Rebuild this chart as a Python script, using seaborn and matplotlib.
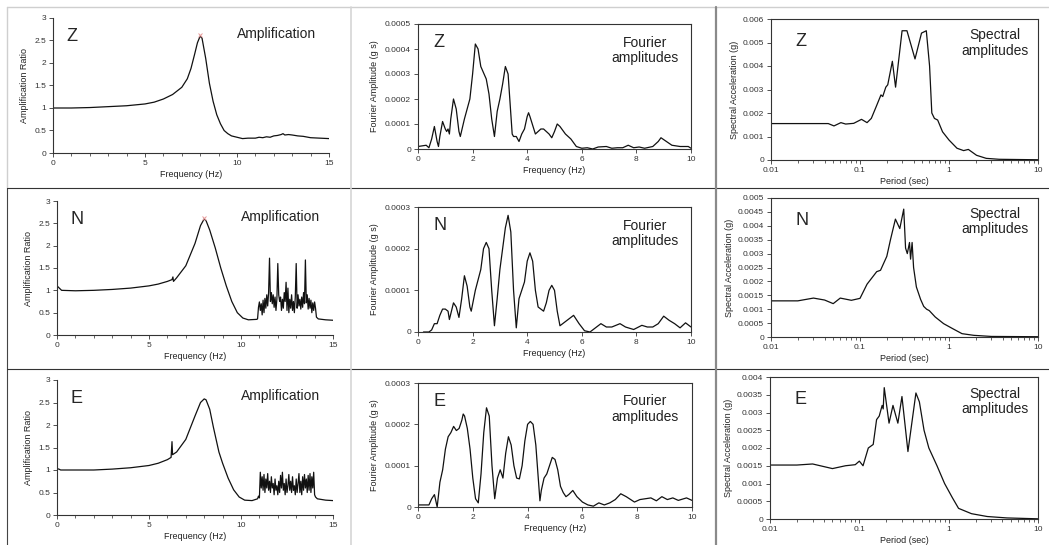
import matplotlib
matplotlib.use("Agg")
import matplotlib.pyplot as plt
from matplotlib.lines import Line2D
import numpy as np
import pandas as pd
import seaborn as sns

W, H = 1049, 545

# ---- amplification ratio (Hz, ratio) ----
amp_z_f = [0, 1, 2, 3, 4, 5, 5.5, 6, 6.5, 7, 7.3, 7.5, 7.7, 7.85, 8.0, 8.1, 8.3, 8.5, 8.7, 8.9,
           9.1, 9.3, 9.5, 9.7, 10, 10.3, 10.6, 11, 11.2, 11.4, 11.6, 11.8, 12, 12.2, 12.4, 12.5,
           12.6, 12.8, 13, 13.3, 13.6, 14, 14.5, 15]
amp_z_r = [1.0, 1.0, 1.01, 1.03, 1.05, 1.09, 1.13, 1.2, 1.3, 1.46, 1.65, 1.88, 2.2, 2.45, 2.6, 2.55,
           2.1, 1.55, 1.15, 0.85, 0.65, 0.5, 0.43, 0.38, 0.35, 0.32, 0.33, 0.33, 0.35, 0.34, 0.36,
           0.35, 0.38, 0.39, 0.41, 0.43, 0.4, 0.41, 0.4, 0.38, 0.37, 0.34, 0.33, 0.32]

amp_n_f = [0, 0.05, 0.15, 0.25, 1, 2, 3, 4, 5, 5.5, 6, 6.25, 6.3, 6.33, 6.5, 7, 7.5, 7.8, 8, 8.1,
           8.3, 8.6, 8.9, 9.2, 9.5, 9.8, 10.1, 10.4, 10.85,
           10.90, 10.95, 11.00, 11.05, 11.10, 11.15, 11.20, 11.25, 11.30, 11.35, 11.40, 11.45, 11.50,
           11.55, 11.60, 11.65, 11.70, 11.75, 11.80, 11.85, 11.90, 11.95, 12.00, 12.05, 12.10, 12.15,
           12.20, 12.25, 12.30, 12.35, 12.40, 12.45, 12.50, 12.55, 12.60, 12.65, 12.70, 12.75, 12.80,
           12.85, 12.90, 12.95, 13.00, 13.05, 13.10, 13.15, 13.20, 13.25, 13.30, 13.35, 13.40, 13.45,
           13.50, 13.55, 13.60, 13.65, 13.70, 13.75, 13.80, 13.85, 13.90, 13.95, 14.00, 14.05, 14.10,
           14.2, 14.6, 15]
amp_n_r = [1.1, 1.08, 1.04, 1.0, 0.99, 1.0, 1.02, 1.05, 1.1, 1.14, 1.2, 1.24, 1.3, 1.2, 1.28, 1.55,
           2.05, 2.45, 2.6, 2.56, 2.35, 1.95, 1.5, 1.1, 0.75, 0.5, 0.38, 0.34, 0.35,
           0.36, 0.62, 0.74, 0.55, 0.7, 0.45, 0.78, 0.5, 0.82, 0.6, 0.9, 0.65, 0.95,
           1.72, 0.75, 0.95, 0.7, 0.9, 0.62, 0.85, 0.55, 0.8, 1.6, 0.9, 0.75, 0.85,
           0.55, 0.8, 0.6, 0.95, 0.75, 1.18, 0.55, 1.05, 0.5, 0.8, 0.6, 0.9, 0.55,
           0.75, 0.5, 0.85, 1.6, 0.6, 0.9, 0.65, 0.8, 0.58, 0.85, 0.62, 0.95, 0.7,
           1.68, 0.72, 0.9, 0.58, 0.82, 0.6, 0.78, 0.5, 0.72, 0.55, 0.74, 0.6, 0.4,
           0.36, 0.34, 0.33]

amp_e_f = [0, 0.1, 0.2, 1, 2, 3, 4, 5, 5.5, 6, 6.2, 6.25, 6.28, 6.5, 7, 7.5, 7.8, 8, 8.1, 8.3,
           8.5, 8.8, 9.0, 9.3, 9.6, 9.9, 10.2, 10.6,
           10.90, 10.95, 11.00, 11.05, 11.10, 11.15, 11.20, 11.25, 11.30, 11.35, 11.40, 11.45, 11.50,
           11.55, 11.60, 11.65, 11.70, 11.75, 11.80, 11.85, 11.90, 11.95, 12.00, 12.05, 12.10, 12.15,
           12.20, 12.25, 12.30, 12.35, 12.40, 12.45, 12.50, 12.55, 12.60, 12.65, 12.70, 12.75, 12.80,
           12.85, 12.90, 12.95, 13.00, 13.05, 13.10, 13.15, 13.20, 13.25, 13.30, 13.35, 13.40, 13.45,
           13.50, 13.55, 13.60, 13.65, 13.70, 13.75, 13.80, 13.85, 13.90, 13.95, 14.00, 14.05,
           14.15, 14.6, 15]
amp_e_r = [1.03, 1.02, 1.0, 1.0, 1.0, 1.02, 1.05, 1.1, 1.15, 1.23, 1.28, 1.63, 1.34, 1.4, 1.68,
           2.2, 2.5, 2.58, 2.56, 2.35, 1.95, 1.4, 1.15, 0.82, 0.56, 0.4, 0.33, 0.32,
           0.36, 0.42, 0.38, 0.95, 0.6, 0.85, 0.55, 0.9, 0.5, 0.8, 0.6, 0.92, 0.55,
           0.75, 0.5, 0.85, 0.6, 0.7, 0.45, 0.8, 0.55, 0.65, 0.45, 0.75, 0.5, 0.88,
           0.6, 0.95, 0.55, 0.7, 0.45, 0.8, 0.5, 0.65, 0.9, 0.55, 0.75, 0.5, 0.85,
           0.55, 0.65, 0.45, 0.8, 0.5, 0.7, 0.92, 0.5, 0.75, 0.45, 0.85, 0.55, 0.9,
           0.6, 0.8, 0.5, 0.88, 0.55, 0.92, 0.5, 0.85, 0.6, 0.95, 0.45, 0.4,
           0.36, 0.33, 0.32]

# ---- Fourier amplitudes (Hz, g s) ----
four_z_f = [0, 0.3, 0.4, 0.5, 0.6, 0.7, 0.75, 0.8, 0.9, 1.0, 1.05, 1.1, 1.15, 1.2, 1.3, 1.4, 1.5,
            1.55, 1.7, 1.9, 2.0, 2.1, 2.2, 2.3, 2.5, 2.6, 2.7, 2.8, 2.9, 3.0, 3.1, 3.2, 3.3, 3.4,
            3.45, 3.5, 3.6, 3.7, 3.8, 3.9, 4.0, 4.05, 4.1, 4.3, 4.5, 4.6, 4.7, 4.8, 4.9, 5.0, 5.1,
            5.2, 5.4, 5.6, 5.8, 6.0, 6.2, 6.4, 6.6, 6.9, 7.1, 7.3, 7.5, 7.7, 7.9, 8.1, 8.3, 8.6,
            8.8, 8.9, 9.1, 9.3, 9.6, 9.9, 10]
four_z_a = [1e-05, 1.5e-05, 5e-06, 4e-05, 9e-05, 3e-05, 1e-05, 5e-05, 0.00011, 8e-05, 7e-05, 8e-05,
            6e-05, 0.00012, 0.0002, 0.00016, 7e-05, 5e-05, 0.00012, 0.0002, 0.0003, 0.00042, 0.0004,
            0.00033, 0.00028, 0.00022, 0.00012, 5e-05, 0.00015, 0.0002, 0.00026, 0.00033, 0.0003,
            0.00014, 6e-05, 5e-05, 5e-05, 3e-05, 6e-05, 8e-05, 0.00013, 0.000145, 0.00013, 6e-05,
            8e-05, 8e-05, 7e-05, 6e-05, 4.5e-05, 7e-05, 0.0001, 9e-05, 6e-05, 4e-05, 1e-05, 3e-06,
            5e-06, 0.0, 8e-06, 1e-05, 3e-06, 5e-06, 5e-06, 1.5e-05, 5e-06, 8e-06, 3e-06, 1e-05,
            3e-05, 4.5e-05, 3e-05, 1.5e-05, 1e-05, 1e-05, 3e-06]

four_n_f = [0.2, 0.4, 0.5, 0.6, 0.7, 0.8, 0.9, 1.0, 1.1, 1.15, 1.3, 1.4, 1.5, 1.6, 1.7, 1.8, 1.9,
            1.95, 2.1, 2.3, 2.4, 2.5, 2.6, 2.7, 2.8, 2.9, 3.0, 3.2, 3.3, 3.4, 3.5, 3.6, 3.7, 3.8,
            3.9, 4.0, 4.1, 4.2, 4.3, 4.4, 4.6, 4.7, 4.8, 4.9, 5.0, 5.1, 5.2, 5.4, 5.6, 5.7, 5.9,
            6.1, 6.3, 6.5, 6.7, 6.9, 7.1, 7.4, 7.6, 7.9, 8.2, 8.4, 8.6, 8.8, 9.0, 9.2, 9.4, 9.6,
            9.8, 10.0]
four_n_a = [0.0, 0.0, 5e-06, 2e-05, 2e-05, 4e-05, 5.5e-05, 5.5e-05, 5e-05, 3e-05, 7e-05, 6e-05,
            3.5e-05, 8e-05, 0.000135, 0.00011, 6e-05, 5e-05, 0.0001, 0.00015, 0.0002, 0.000215,
            0.0002, 0.0001, 1.5e-05, 8e-05, 0.00015, 0.00025, 0.00028, 0.00024, 0.0001, 1e-05,
            8e-05, 0.0001, 0.00012, 0.00017, 0.00019, 0.00017, 0.0001, 6e-05, 5e-05, 7e-05,
            0.0001, 0.000112, 0.0001, 5e-05, 1.5e-05, 2.5e-05, 3.5e-05, 4e-05, 2e-05, 3e-06, 0.0,
            1e-05, 2e-05, 1.2e-05, 1.2e-05, 2e-05, 1.2e-05, 6e-06, 1.6e-05, 1.2e-05, 1.2e-05,
            2e-05, 3.8e-05, 2.8e-05, 2e-05, 1e-05, 2.2e-05, 1.2e-05]

four_e_f = [0, 0.4, 0.5, 0.6, 0.65, 0.7, 0.8, 0.9, 1.0, 1.1, 1.2, 1.3, 1.4, 1.5, 1.6, 1.65, 1.7,
            1.8, 1.9, 2.0, 2.1, 2.2, 2.3, 2.4, 2.5, 2.6, 2.7, 2.8, 2.9, 3.0, 3.1, 3.2, 3.3, 3.4,
            3.5, 3.6, 3.7, 3.8, 3.9, 4.0, 4.1, 4.2, 4.3, 4.4, 4.45, 4.5, 4.6, 4.7, 4.8, 4.9, 5.0,
            5.1, 5.2, 5.3, 5.4, 5.5, 5.65, 5.8, 6.0, 6.2, 6.4, 6.6, 6.8, 7.0, 7.2, 7.4, 7.6, 7.9,
            8.1, 8.3, 8.5, 8.7, 8.9, 9.1, 9.3, 9.5, 9.8, 10]
four_e_a = [5e-06, 5e-06, 2e-05, 3e-05, 1.5e-05, 0.0, 6e-05, 9e-05, 0.00014, 0.00017, 0.00018,
            0.000195, 0.000185, 0.00019, 0.00021, 0.000225, 0.00022, 0.00019, 0.00014, 7e-05,
            2e-05, 1e-05, 8e-05, 0.00018, 0.00024, 0.00022, 0.0001, 2e-05, 7e-05, 9e-05, 7e-05,
            0.00013, 0.00017, 0.00015, 0.0001, 7e-05, 6.8e-05, 0.0001, 0.00016, 0.0002, 0.000207,
            0.0002, 0.00015, 6e-05, 1.5e-05, 4e-05, 7e-05, 8e-05, 0.0001, 0.00012, 0.000115, 9e-05,
            5e-05, 3.5e-05, 2.5e-05, 3e-05, 4e-05, 2.5e-05, 1.2e-05, 5e-06, 2e-06, 1e-05, 5e-06,
            1e-05, 1.8e-05, 3.2e-05, 2.5e-05, 1.2e-05, 1.8e-05, 2e-05, 2.2e-05, 1.5e-05, 2.5e-05,
            1.8e-05, 2.2e-05, 1.6e-05, 2.2e-05, 1.6e-05]

# ---- spectral acceleration (sec, g) ----
spec_z_t = [0.01, 0.02, 0.044, 0.051, 0.061, 0.069, 0.085, 0.104, 0.12, 0.134, 0.152, 0.172, 0.18,
            0.195, 0.205, 0.231, 0.251, 0.273, 0.297, 0.337, 0.415, 0.491, 0.556, 0.605, 0.641,
            0.686, 0.746, 0.846, 1.0, 1.23, 1.46, 1.65, 2.04, 2.62, 3.66, 6, 10]
spec_z_a = [0.00155, 0.00155, 0.00155, 0.00145, 0.00159, 0.00153, 0.00156, 0.00173, 0.00159,
            0.00177, 0.00227, 0.00277, 0.0027, 0.0031, 0.0032, 0.0042, 0.0031, 0.0043, 0.0055,
            0.0055, 0.0043, 0.0054, 0.0055, 0.004, 0.002, 0.00177, 0.0017, 0.0012, 0.00085,
            0.0005, 0.0004, 0.00045, 0.0002, 7e-05, 3e-05, 2e-05, 1e-05]

spec_n_t = [0.01, 0.02, 0.03, 0.04, 0.05, 0.06, 0.08, 0.1, 0.12, 0.154, 0.17, 0.2, 0.22, 0.25,
            0.28, 0.31, 0.325, 0.34, 0.36, 0.37, 0.385, 0.4, 0.43, 0.48, 0.52, 0.56, 0.6, 0.7,
            0.87, 1.1, 1.4, 1.9, 3, 10]
spec_n_a = [0.0013, 0.0013, 0.0014, 0.00133, 0.0012, 0.0014, 0.00132, 0.00139, 0.0019, 0.00235,
            0.0024, 0.0029, 0.0035, 0.00424, 0.0039, 0.0046, 0.0032, 0.003, 0.0034, 0.0028, 0.0034,
            0.0025, 0.0018, 0.00135, 0.0011, 0.001, 0.00095, 0.00072, 0.00048, 0.0003, 0.00012,
            6e-05, 2e-05, 1e-05]

spec_e_t = [0.01, 0.02, 0.03, 0.05, 0.07, 0.09, 0.1, 0.11, 0.126, 0.143, 0.156, 0.167, 0.18, 0.185,
            0.19, 0.215, 0.238, 0.27, 0.3, 0.35, 0.43, 0.47, 0.53, 0.6, 0.74, 0.9, 1.1, 1.29, 1.8,
            2.7, 4.5, 10]
spec_e_a = [0.00152, 0.00152, 0.00155, 0.00142, 0.0015, 0.00153, 0.00163, 0.0015, 0.002, 0.0021,
            0.0028, 0.0029, 0.0032, 0.0031, 0.0037, 0.0027, 0.0032, 0.0027, 0.00345, 0.0019,
            0.00355, 0.0033, 0.0025, 0.002, 0.0015, 0.001, 0.0006, 0.0003, 0.00015, 7e-05,
            3e-05, 5e-06]

components = ["Z", "N", "E"]

amp_yticks = [0, 0.5, 1, 1.5, 2, 2.5, 3]
amp_ylabels = ["0", "0.5", "1", "1.5", "2", "2.5", "3"]
amp_xticks = [0, 5, 10, 15]

four_xticks = [0, 2, 4, 6, 8, 10]
four_yticks_z = [0, 0.0001, 0.0002, 0.0003, 0.0004, 0.0005]
four_ylabels_z = ["0", "0.0001", "0.0002", "0.0003", "0.0004", "0.0005"]
four_yticks_ne = [0, 0.0001, 0.0002, 0.0003]
four_ylabels_ne = ["0", "0.0001", "0.0002", "0.0003"]

spec_xticks = [0.01, 0.1, 1, 10]
spec_xlabels = ["0.01", "0.1", "1", "10"]
spec_yticks_z = [0, 0.001, 0.002, 0.003, 0.004, 0.005, 0.006]
spec_ylabels_z = ["0", "0.001", "0.002", "0.003", "0.004", "0.005", "0.006"]
spec_yticks_n = [0, 0.0005, 0.001, 0.0015, 0.002, 0.0025, 0.003, 0.0035, 0.004, 0.0045, 0.005]
spec_ylabels_n = ["0", "0.0005", "0.001", "0.0015", "0.002", "0.0025", "0.003", "0.0035",
                  "0.004", "0.0045", "0.005"]
spec_yticks_e = [0, 0.0005, 0.001, 0.0015, 0.002, 0.0025, 0.003, 0.0035, 0.004]
spec_ylabels_e = ["0", "0.0005", "0.001", "0.0015", "0.002", "0.0025", "0.003", "0.0035", "0.004"]

sns.set_theme(style="ticks")
plt.rcParams['font.family'] = ['Liberation Sans', 'DejaVu Sans']

fig = plt.figure(figsize=(W / 100, H / 100), dpi=100)
fig.patch.set_facecolor("white")


def rect(l, t, r, b):
    return [l / W, 1 - b / H, (r - l) / W, (b - t) / H]


def style(ax, box):
    for s in ["left", "bottom", "top", "right"]:
        ax.spines[s].set_color("#333333")
        ax.spines[s].set_linewidth(0.8)
    if not box:
        ax.spines["top"].set_visible(False)
        ax.spines["right"].set_visible(False)
    ax.tick_params(labelsize=6, length=3, width=0.6, pad=2, colors="#333333")
    ax.tick_params(which="minor", length=2, width=0.5)
    ax.set_facecolor("white")


LINE = dict(color="#111111", linewidth=0.9, estimator=None, sort=False, legend=False)

amp_pos = [(53, 18, 329, 153), (57, 201, 333, 335), (57, 380, 333, 515)]
four_pos = [(418, 24, 691, 149), (418, 207, 691, 332), (418, 383, 692, 507)]
spec_pos = [(771, 19, 1038, 160), (771, 198, 1038, 337), (770, 377, 1038, 519)]

amp_data = [(amp_z_f, amp_z_r), (amp_n_f, amp_n_r), (amp_e_f, amp_e_r)]
four_data = [(four_z_f, four_z_a), (four_n_f, four_n_a), (four_e_f, four_e_a)]
spec_data = [(spec_z_t, spec_z_a), (spec_n_t, spec_n_a), (spec_e_t, spec_e_a)]
four_ticks = [(four_yticks_z, four_ylabels_z), (four_yticks_ne, four_ylabels_ne),
              (four_yticks_ne, four_ylabels_ne)]
spec_ticks = [(spec_yticks_z, spec_ylabels_z), (spec_yticks_n, spec_ylabels_n),
              (spec_yticks_e, spec_ylabels_e)]

for i, comp in enumerate(components):
    # amplification
    ax = fig.add_axes(rect(*amp_pos[i]))
    f, r = amp_data[i]
    sns.lineplot(x=f, y=r, ax=ax, **LINE)
    ax.set_xlim(0, 15)
    ax.set_ylim(0, 3)
    ax.set_xticks(amp_xticks)
    ax.set_xticklabels([str(v) for v in amp_xticks])
    ax.set_xticks(range(16), minor=True)
    ax.set_yticks(amp_yticks)
    ax.set_yticklabels(amp_ylabels)
    style(ax, box=False)
    ax.set_xlabel("Frequency (Hz)", fontsize=6.5, labelpad=2, color="#222222")
    ax.set_ylabel("Amplification Ratio", fontsize=6.5, labelpad=4, color="#222222")
    ax.text(0.05, 0.86, comp, transform=ax.transAxes, fontsize=13, va="center", ha="left")
    ax.text(0.955, 0.88, "Amplification", transform=ax.transAxes, fontsize=10, va="center",
            ha="right", color="#222222")
    if comp != "E":
        k = int(np.argmax(r))
        ax.plot(f[k], r[k] + 0.03, marker="x", color="#e79a9a", markersize=3, mew=0.7)

    # Fourier amplitudes
    ax = fig.add_axes(rect(*four_pos[i]))
    f, a = four_data[i]
    sns.lineplot(x=f, y=a, ax=ax, **LINE)
    yt, yl = four_ticks[i]
    ax.set_xlim(0, 10)
    ax.set_ylim(0, yt[-1])
    ax.set_xticks(four_xticks)
    ax.set_xticklabels([str(v) for v in four_xticks])
    ax.set_yticks(yt)
    ax.set_yticklabels(yl)
    style(ax, box=True)
    ax.set_xlabel("Frequency (Hz)", fontsize=6.5, labelpad=2, color="#222222")
    ax.set_ylabel("Fourier Amplitude (g s)", fontsize=6.5, labelpad=4, color="#222222")
    ax.text(0.055, 0.85, comp, transform=ax.transAxes, fontsize=13, va="center", ha="left")
    ax.text(0.83, 0.79, "Fourier\namplitudes", transform=ax.transAxes, fontsize=10,
            va="center", ha="center", multialignment="center", color="#222222",
            linespacing=1.1)

    # spectral accelerations
    ax = fig.add_axes(rect(*spec_pos[i]))
    t, a = spec_data[i]
    sns.lineplot(x=t, y=a, ax=ax, **LINE)
    yt, yl = spec_ticks[i]
    ax.set_xscale("log")
    ax.set_xlim(0.01, 10)
    ax.set_ylim(0, yt[-1])
    ax.set_xticks(spec_xticks)
    ax.set_xticklabels(spec_xlabels)
    ax.set_yticks(yt)
    ax.set_yticklabels(yl)
    style(ax, box=True)
    ax.set_xlabel("Period (sec)", fontsize=6.5, labelpad=2, color="#222222")
    ax.set_ylabel("Spectral Acceleration (g)", fontsize=6.5, labelpad=3, color="#222222")
    ax.text(0.09, 0.84, comp, transform=ax.transAxes, fontsize=13, va="center", ha="left")
    ax.text(0.84, 0.83, "Spectral\namplitudes", transform=ax.transAxes, fontsize=10,
            va="center", ha="center", multialignment="center", color="#222222",
            linespacing=1.1)


def hline(y, x0, x1, color, lw):
    fig.add_artist(Line2D([x0 / W, x1 / W], [1 - y / H, 1 - y / H], color=color, lw=lw,
                          transform=fig.transFigure))


def vline(x, y0, y1, color, lw):
    fig.add_artist(Line2D([x / W, x / W], [1 - y0 / H, 1 - y1 / H], color=color, lw=lw,
                          transform=fig.transFigure))


# table borders around the panels
hline(7, 7, W, "#cfcfcf", 1.0)
vline(7, 7, 188, "#cfcfcf", 1.0)
vline(7, 188, H, "#444444", 0.8)
hline(188, 7, W, "#333333", 0.8)
hline(369, 7, W, "#333333", 0.8)
vline(351, 7, H, "#d5d5d5", 1.2)
vline(716, 7, H, "#8a8a8a", 1.6)

fig.savefig("out.png", dpi=100, facecolor="white")
